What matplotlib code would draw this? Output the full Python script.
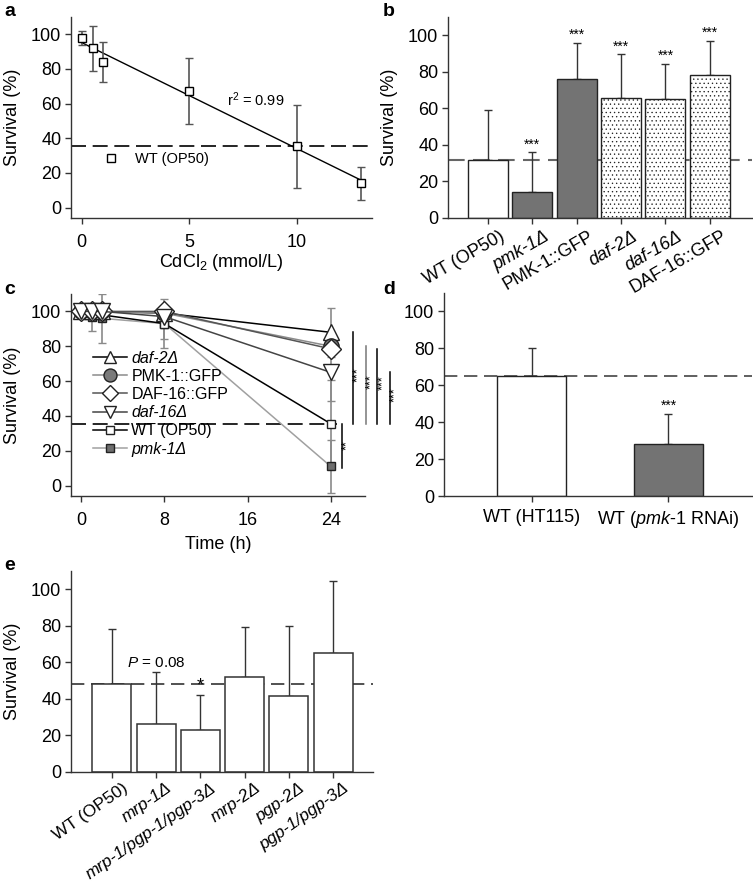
import numpy as np
import matplotlib
matplotlib.use('Agg')
import matplotlib.pyplot as plt
from matplotlib.transforms import ScaledTranslation

plt.rcParams['font.family'] = ['Liberation Sans', 'DejaVu Sans']
plt.rcParams['mathtext.fontset'] = 'custom'
plt.rcParams['mathtext.rm'] = 'Liberation Sans'
plt.rcParams['mathtext.it'] = 'Liberation Sans:italic'
plt.rcParams['hatch.linewidth'] = 0.45

# --- data ---
# a: dose response
dose = [0, 0.5, 1, 5, 10, 13]
dose_surv = [98, 92, 84, 67.5, 35.5, 14]
dose_err = [4, 13, 11.5, 19, 24, 9.5]

# b: strains on 10 mM CdCl2
b_labels = ['WT (OP50)', 'pmk-1Δ', 'PMK-1::GFP', 'daf-2Δ', 'daf-16Δ', 'DAF-16::GFP']
b_surv = [31.5, 14, 76, 65.5, 65, 78.5]
b_err = [27.5, 22, 20, 24, 19.5, 18.5]
b_stars = ['', '***', '***', '***', '***', '***']

# c: time course
times = [0, 1, 2, 8, 24]
c_names = ['daf-2Δ', 'PMK-1::GFP', 'DAF-16::GFP', 'daf-16Δ', 'WT (OP50)', 'pmk-1Δ']
c_surv = [[100, 100, 100, 99, 88],
          [100, 100, 100, 99, 80],
          [100, 100, 100, 100, 78.5],
          [100, 100, 100, 97, 65],
          [100, 99, 98, 93, 35.5],
          [100, 97, 96, 93, 11]]
c_err = [[0, 0, 0, 1, 14],
         [0, 0, 0, 1, 3],
         [0, 0, 0, 1, 3],
         [0, 0, 0, 2, 16.5],
         [0, 2, 2, 9, 25],
         [0, 8, 14, 14, 15]]
c_stars = ['***', '***', '***', '***', '', '**']

# d: RNAi
d_labels = ['WT (HT115)', 'WT ($\\mathit{pmk}$-$\\mathit{1}$ RNAi)']
d_surv = [65, 28]
d_err = [15, 16.5]

# e: transporters
e_labels = ['WT (OP50)', 'mrp-1Δ', 'mrp-1/pgp-1/pgp-3Δ', 'mrp-2Δ', 'pgp-2Δ', 'pgp-1/pgp-3Δ']
e_surv = [48, 26, 23, 52, 41.5, 65]
e_err = [30, 29, 19, 27.5, 38.5, 39.5]

FS = 13
AX = '#333333'


def style(ax, xpad=3):
    for s in ['top', 'right']:
        ax.spines[s].set_visible(False)
    for s in ['left', 'bottom']:
        ax.spines[s].set_color(AX)
        ax.spines[s].set_linewidth(1.0)
    ax.tick_params(direction='out', length=4, width=1, color=AX, labelsize=FS, pad=3)
    ax.tick_params(axis='x', pad=xpad)


def rot_labels(ax, labels, rot, dx, italic, size=FS):
    ax.set_xticklabels(labels, rotation=rot, ha='right', va='top', rotation_mode='anchor', fontsize=size)
    off = ScaledTranslation(dx / 100.0, 0, ax.figure.dpi_scale_trans)
    for t, it in zip(ax.get_xticklabels(), italic):
        t.set_transform(t.get_transform() + off)
        if it:
            t.set_fontstyle('italic')


fig = plt.figure(figsize=(7.53, 8.83), dpi=100)
W, H = 753.0, 883.0


def axes_px(l, r, t, b):
    return fig.add_axes([l / W, 1 - b / H, (r - l) / W, (b - t) / H])


# ---- a ----
ax = axes_px(71, 372, 17, 218)
style(ax, xpad=7.5)
ax.set_xlim(-0.5, 13.5)
ax.set_ylim(-6, 110)
k, c0 = np.polyfit(dose, dose_surv, 1)
xx = np.array([dose[0], dose[-1]])
ax.plot(xx, k * xx + c0, color='black', lw=1)
ax.axhline(dose_surv[4], color='black', lw=1.2, dashes=(9, 4))
ax.errorbar(dose, dose_surv, yerr=dose_err, fmt='none', ecolor='#555555', elinewidth=1.2, capsize=3)
ax.plot(dose, dose_surv, 's', ms=6, mfc='white', mec='black', mew=1, label='WT (OP50)')
ax.legend(loc='center left', bbox_to_anchor=(0.085, 0.294), frameon=False, fontsize=10.5,
          borderpad=0, borderaxespad=0, handletextpad=0.6, handlelength=2)
ax.text(6.75, 62, 'r$^2$ = 0.99', fontsize=10.5, ha='left', va='center')
ax.set_xticks([0, 5, 10])
ax.set_yticks(range(0, 101, 20))
ax.set_xlabel('CdCl$_2$ (mmol/L)', fontsize=FS, labelpad=1)
ax.set_ylabel('Survival (%)', fontsize=FS, labelpad=7)

# ---- b ----
ax = axes_px(448, 752, 17, 218)
style(ax)
xb = np.arange(len(b_labels))
cols = ['white', '#737373', '#737373', 'white', 'white', 'white']
hat = [None, None, None, '....', '....', '....']
ax.axhline(b_surv[0], color='#666666', lw=1.5, dashes=(8, 4), zorder=1)
for i in range(len(xb)):
    ax.bar(xb[i], b_surv[i], 0.9, color=cols[i], edgecolor='#222222', lw=1, hatch=hat[i], zorder=2)
ax.errorbar(xb, b_surv, yerr=[np.zeros(len(xb)), b_err], fmt='none', ecolor='#333333',
            elinewidth=1, capsize=3, zorder=1)
for i in range(len(xb)):
    ax.text(xb[i], b_surv[i] + b_err[i] + 0.5, b_stars[i], ha='center', va='bottom', fontsize=10)
ax.set_xlim(-0.9, 5.95)
ax.set_ylim(0, 110)
ax.set_yticks(range(0, 101, 20))
ax.set_xticks(xb)
rot_labels(ax, b_labels, 30, 11, [False, True, False, True, True, False])
ax.set_ylabel('Survival (%)', fontsize=FS, labelpad=7)

# ---- c ----
ax = axes_px(71, 365, 294, 496)
style(ax, xpad=7.5)
ax.set_xlim(-1, 27.3)
ax.set_ylim(-6, 110)
line_col = ['black', '#8c8c8c', '#555555', '#444444', 'black', '#a0a0a0']
marks = ['^', 'o', 'D', 'v', 's', 's']
msz = [11, 11, 10, 11, 6, 6]
face = ['white', '#7a7a7a', 'white', 'white', 'white', '#6e6e6e']
zo = [4, 5, 6, 7, 3.5, 3]
ax.plot([-1, 24.6], [c_surv[4][-1], c_surv[4][-1]], color='black', lw=1.2, dashes=(9, 4))
for i in range(len(c_names)):
    ax.errorbar(times, c_surv[i], yerr=c_err[i], fmt='none', ecolor='#8a8a8a', elinewidth=1.2,
                capsize=3, zorder=2)
handles = []
for i in range(len(c_names)):
    h, = ax.plot(times, c_surv[i], color=line_col[i], lw=1.1, marker=marks[i], ms=msz[i],
                 mfc=face[i], mec='#222222', mew=1, label=c_names[i], zorder=zo[i])
    handles.append(h)
leg = ax.legend(handles=handles, loc='upper left', bbox_to_anchor=(0.075, 0.72), frameon=False,
                fontsize=11.5, borderpad=0, borderaxespad=0, handletextpad=0.3, handlelength=2.1,
                labelspacing=0.2, markerscale=0.85)
for t, it in zip(leg.get_texts(), [True, False, False, True, False, True]):
    if it:
        t.set_fontstyle('italic')
# significance brackets versus WT at 24 h
sig_x = [26.1, 27.35, 28.5, 29.7]
sig_col = ['black', '#777777', 'black', 'black']
for i in range(4):
    y1 = c_surv[i][-1]
    y0 = c_surv[4][-1]
    ax.plot([sig_x[i], sig_x[i]], [y0, y1], color=sig_col[i], lw=1.1, clip_on=False)
    ax.text(sig_x[i] + 0.55, (y0 + y1) / 2 + 2, c_stars[i], rotation=90, ha='center', va='center',
            fontsize=9, clip_on=False)
ax.plot([25.05, 25.05], [c_surv[5][-1] - 1, c_surv[4][-1]], color='black', lw=1.1, clip_on=False)
ax.text(25.6, (c_surv[5][-1] + c_surv[4][-1]) / 2, c_stars[5], rotation=90, ha='center', va='center',
        fontsize=9, clip_on=False)
ax.set_xticks([0, 8, 16, 24])
ax.set_yticks(range(0, 101, 20))
ax.set_xlabel('Time (h)', fontsize=FS, labelpad=5)
ax.set_ylabel('Survival (%)', fontsize=FS, labelpad=7)

# ---- d ----
ax = axes_px(444, 752, 293, 496)
style(ax, xpad=5)
xd = np.arange(len(d_labels))
ax.axhline(d_surv[0], color='#444444', lw=1.2, dashes=(8, 4), zorder=1)
ax.bar(xd, d_surv, 0.5, color=['white', '#737373'], edgecolor='#222222', lw=1, zorder=2)
ax.errorbar(xd, d_surv, yerr=[np.zeros(len(xd)), d_err], fmt='none', ecolor='#333333',
            elinewidth=1, capsize=3, zorder=1)
ax.text(xd[1], d_surv[1] + d_err[1] + 0.5, '***', ha='center', va='bottom', fontsize=10)
ax.set_xlim(-0.64, 1.61)
ax.set_ylim(0, 110)
ax.set_yticks(range(0, 101, 20))
ax.set_xticks(xd)
ax.set_xticklabels(d_labels)

# ---- e ----
ax = axes_px(71, 373, 571, 772)
style(ax, xpad=2)
xe = np.arange(len(e_labels))
ax.axhline(e_surv[0], color='#333333', lw=1.2, dashes=(8, 4), zorder=1)
ax.bar(xe, e_surv, 0.88, color='white', edgecolor='#333333', lw=1.1, zorder=2)
ax.errorbar(xe, e_surv, yerr=[np.zeros(len(xe)), e_err], fmt='none', ecolor='#333333',
            elinewidth=1, capsize=3, zorder=1)
ax.text(xe[1], 59.5, '$\\mathit{P}$ = 0.08', ha='center', va='center', fontsize=11)
ax.text(xe[2], e_surv[2] + e_err[2] + 0.5, '*', ha='center', va='bottom', fontsize=13)
ax.set_xlim(-0.92, 5.9)
ax.set_ylim(0, 110)
ax.set_yticks(range(0, 101, 20))
ax.set_xticks(xe)
rot_labels(ax, e_labels, 35, 10, [False, True, True, True, True, True], size=12.5)
ax.set_ylabel('Survival (%)', fontsize=FS, labelpad=7)

# panel letters
for lab, px, py in [('a', 10, 12), ('b', 389, 12), ('c', 10, 290), ('d', 389, 290), ('e', 10, 565)]:
    fig.text(px / W, 1 - py / H, lab, fontsize=14, fontweight='bold', ha='center', va='center')

fig.savefig('out.png', dpi=100)
